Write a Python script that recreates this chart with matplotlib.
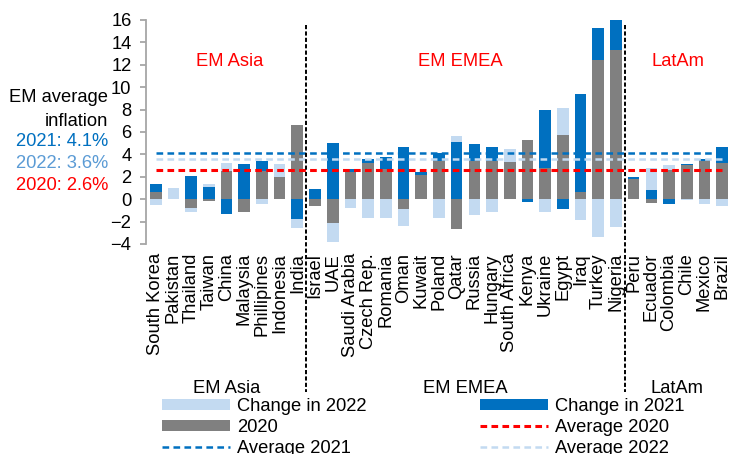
import numpy as np
import matplotlib
matplotlib.use("Agg")
import matplotlib.pyplot as plt
from matplotlib.patches import Patch
from matplotlib.lines import Line2D

plt.rcParams["font.family"] = ["Liberation Sans", "DejaVu Sans"]
plt.rcParams["lines.scale_dashes"] = False

countries = ["South Korea", "Pakistan", "Thailand", "Taiwan", "China", "Malaysia",
             "Phillipines", "Indonesia", "India",
             "Israel", "UAE", "Saudi Arabia", "Czech Rep.", "Romania", "Oman",
             "Kuwait", "Poland", "Qatar", "Russia", "Hungary", "South Africa",
             "Kenya", "Ukraine", "Egypt", "Iraq", "Turkey", "Nigeria",
             "Peru", "Ecuador", "Colombia", "Chile", "Mexico", "Brazil"]

infl_2020 = [0.6, 0.0, -0.8, -0.2, 2.5, -1.15, 2.55, 2.0, 6.65,
             -0.6, -2.1, 2.45, 3.2, 2.7, -0.9, 2.15, 3.4, -2.7, 3.4, 3.4, 3.35,
             5.3, 2.8, 5.7, 0.6, 12.4, 13.35,
             1.8, -0.3, 2.6, 3.05, 3.4, 3.2]

change_2021 = [0.8, 0.0, 2.1, 1.1, -1.3, 3.15, 0.9, 0.0, -1.75,
               0.95, 5.0, 0.25, 0.4, 1.1, 4.7, 0.25, 0.75, 5.1, 1.5, 1.3, 0.0,
               -0.25, 5.2, -0.9, 8.8, 2.9, 2.9,
               0.2, 0.85, -0.4, 0.1, 0.15, 1.5]

change_2022 = [-0.5, 1.0, -0.3, 0.3, 0.7, 0.0, -0.45, 1.1, -0.8,
               0.0, -1.7, -0.75, -1.65, -1.65, -1.45, 0.0, -1.7, 0.55, -1.45, -1.1, 1.15,
               0.0, -1.1, 2.45, -1.85, -3.4, -2.5,
               0.0, 1.95, 0.45, -0.1, -0.4, -0.6]

avg_2020, avg_2021, avg_2022 = 2.6, 4.1, 3.6

GREY = "#808080"
BLUE = "#0070C0"
LIGHT = "#C3DAF1"
RED = "#FF0000"
FS = 13.2

fig = plt.figure(figsize=(7.31, 4.54), dpi=100)
ax = fig.add_axes([146 / 731, 210 / 454, 585 / 731, 224 / 454])

x = np.arange(len(countries))
pos_base = np.zeros(len(countries))
neg_base = np.zeros(len(countries))
handles = {}
for vals, color, label in [(infl_2020, GREY, "2020"),
                           (change_2021, BLUE, "Change in 2021"),
                           (change_2022, LIGHT, "Change in 2022")]:
    v = np.asarray(vals, dtype=float)
    bottom = np.where(v >= 0, pos_base, neg_base)
    ax.bar(x, v, bottom=bottom, width=0.66, color=color, linewidth=0, zorder=2)
    pos_base = pos_base + np.where(v > 0, v, 0)
    neg_base = neg_base + np.where(v < 0, v, 0)
    handles[label] = Patch(facecolor=color, edgecolor="none")

# EM averages
dash = (4.8, 3.1)
ax.plot([x[0], x[-1]], [avg_2021, avg_2021], color=BLUE, lw=1.8, dashes=dash, zorder=3)
ax.plot([x[0], x[-1]], [avg_2022, avg_2022], color=LIGHT, lw=1.8, dashes=dash, zorder=3)
ax.plot([x[0], x[-1]], [avg_2020, avg_2020], color=RED, lw=2.2, dashes=dash, zorder=3)

# region separators
for xs in (8.5, 26.5):
    ax.plot([xs, xs], [15.55, -17.2], color="black", lw=1.4, dashes=(3, 1.6),
            clip_on=False, zorder=4)

for xt, name in [(4.2, "EM Asia"), (17.2, "EM EMEA"), (29.5, "LatAm")]:
    ax.text(xt, 12.3, name, color=RED, fontsize=FS, ha="center", va="center")
for xt, name in [(4.0, "EM Asia"), (17.5, "EM EMEA"), (29.45, "LatAm")]:
    ax.text(xt, -16.9, name, color="black", fontsize=FS, ha="center", va="center",
            clip_on=False)

ax.set_xlim(-0.55, 32.5)
ax.set_ylim(-4, 16)
ax.set_yticks(np.arange(-4, 17, 2))
ax.set_xticks(x)
ax.set_xticklabels(countries, rotation=90, fontsize=FS)
ax.tick_params(axis="x", length=0, pad=6.5)
ax.tick_params(axis="y", direction="out", length=4.5, width=1.3, color="#A6A6A6",
               labelsize=FS, pad=6)
for s in ("top", "right", "bottom"):
    ax.spines[s].set_visible(False)
ax.spines["left"].set_color("#A6A6A6")
ax.spines["left"].set_linewidth(1.3)

# side annotation
fig.text(108 / 731, 1 - 98 / 454, "EM average", fontsize=FS, ha="right", va="center")
fig.text(108 / 731, 1 - 121 / 454, "inflation", fontsize=FS, ha="right", va="center")
fig.text(108 / 731, 1 - 142 / 454, f"2021: {avg_2021}%", color=BLUE, fontsize=FS,
         ha="right", va="center")
fig.text(108 / 731, 1 - 164 / 454, f"2022: {avg_2022}%", color="#5B9BD5", fontsize=FS,
         ha="right", va="center")
fig.text(108 / 731, 1 - 185 / 454, f"2020: {avg_2020}%", color=RED, fontsize=FS,
         ha="right", va="center")

legend_items = [
    (handles["Change in 2022"], "Change in 2022"),
    (handles["2020"], "2020"),
    (Line2D([], [], color=BLUE, lw=1.8, dashes=dash), "Average 2021"),
    (handles["Change in 2021"], "Change in 2021"),
    (Line2D([], [], color=RED, lw=2.2, dashes=dash), "Average 2020"),
    (Line2D([], [], color=LIGHT, lw=1.8, dashes=dash), "Average 2022"),
]
fig.legend([h for h, _ in legend_items], [l for _, l in legend_items],
           ncol=2, loc="upper left", bbox_to_anchor=(162 / 731, 1 - 398 / 454),
           frameon=False, fontsize=FS, handlelength=3.7, handleheight=0.55,
           handletextpad=0.38, columnspacing=6.2, labelspacing=0.22,
           borderpad=0, borderaxespad=0)

fig.savefig("out.png", dpi=100)
